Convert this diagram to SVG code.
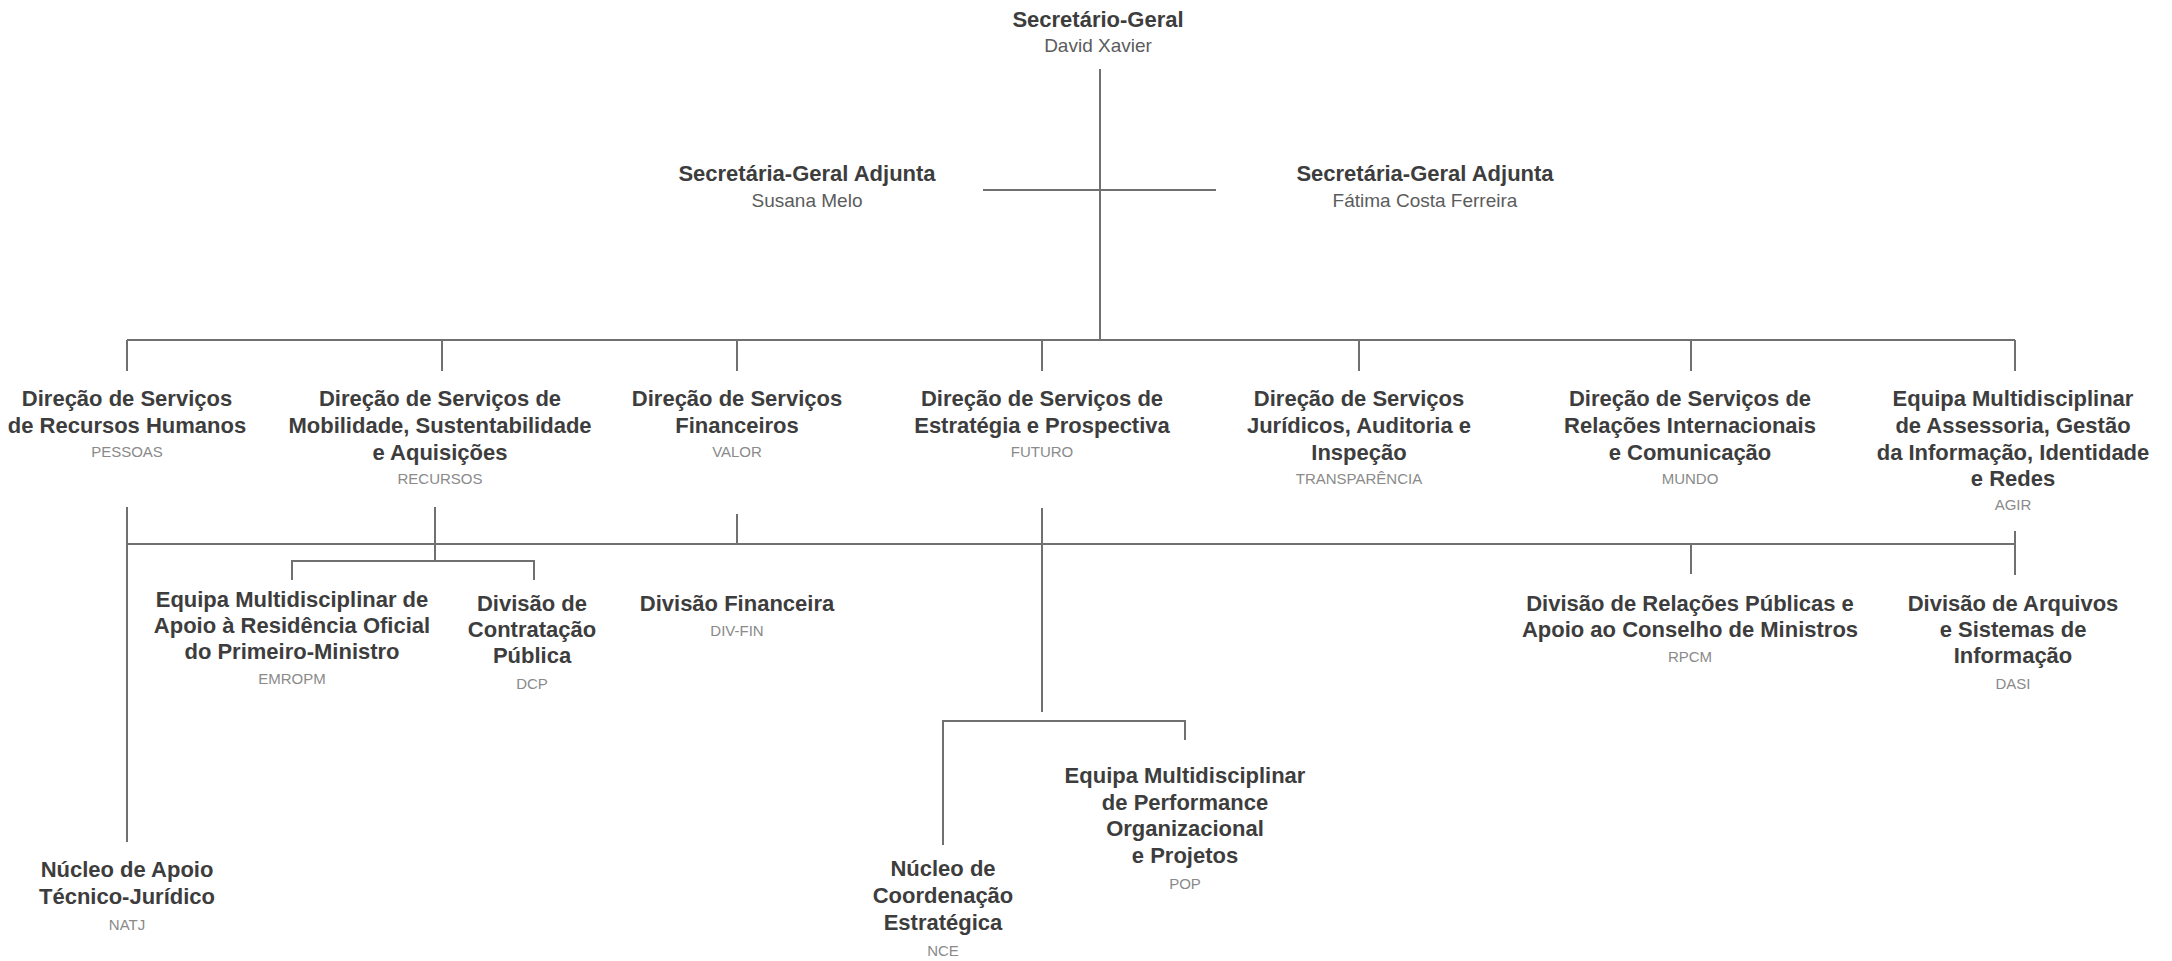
<svg xmlns="http://www.w3.org/2000/svg" width="2172" height="961" viewBox="0 0 2172 961">
<style>
.t{font-family:"Liberation Sans",Arial,sans-serif;font-weight:700;font-size:22px;fill:#3d3d3d;text-anchor:middle}
.n{font-family:"Liberation Sans",Arial,sans-serif;font-size:19px;fill:#5c5c5c;text-anchor:middle}
.c{font-family:"Liberation Sans",Arial,sans-serif;font-size:15px;fill:#8a8a8a;text-anchor:middle}
.ln{fill:none;stroke:#707070;stroke-width:2}
</style>
<rect width="2172" height="961" fill="#ffffff"/>
<g id="connectors" class="ln">
<path d="M1100 69V340"/>
<path d="M983 190H1216"/>
<path d="M127 340H2015"/>
<path d="M127 340V371M442 340V371M737 340V371M1042 340V371M1359 340V371M1691 340V371M2015 340V371"/>
<path d="M127 544H2015"/>
<path d="M127 507V842"/>
<path d="M435 507V561"/>
<path d="M292 580V561H534V580"/>
<path d="M737 514V544"/>
<path d="M1042 508V712"/>
<path d="M943 845V721H1185V740"/>
<path d="M1691 544V574"/>
<path d="M2015 531V575"/>
</g>
<g id="sg"><text class="t" x="1098" y="27">Secretário-Geral</text><text class="n" x="1098" y="52">David Xavier</text></g>
<g id="sga1"><text class="t" x="807" y="181">Secretária-Geral Adjunta</text><text class="n" x="807" y="207">Susana Melo</text></g>
<g id="sga2"><text class="t" x="1425" y="181">Secretária-Geral Adjunta</text><text class="n" x="1425" y="207">Fátima Costa Ferreira</text></g>
<g id="pessoas"><text class="t" x="127" y="406">Direção de Serviços</text><text class="t" x="127" y="433">de Recursos Humanos</text><text class="c" x="127" y="457">PESSOAS</text></g>
<g id="recursos"><text class="t" x="440" y="406">Direção de Serviços de</text><text class="t" x="440" y="433">Mobilidade, Sustentabilidade</text><text class="t" x="440" y="460">e Aquisições</text><text class="c" x="440" y="484">RECURSOS</text></g>
<g id="valor"><text class="t" x="737" y="406">Direção de Serviços</text><text class="t" x="737" y="433">Financeiros</text><text class="c" x="737" y="457">VALOR</text></g>
<g id="futuro"><text class="t" x="1042" y="406">Direção de Serviços de</text><text class="t" x="1042" y="433">Estratégia e Prospectiva</text><text class="c" x="1042" y="457">FUTURO</text></g>
<g id="transparencia"><text class="t" x="1359" y="406">Direção de Serviços</text><text class="t" x="1359" y="433">Jurídicos, Auditoria e</text><text class="t" x="1359" y="460">Inspeção</text><text class="c" x="1359" y="484">TRANSPARÊNCIA</text></g>
<g id="mundo"><text class="t" x="1690" y="406">Direção de Serviços de</text><text class="t" x="1690" y="433">Relações Internacionais</text><text class="t" x="1690" y="460">e Comunicação</text><text class="c" x="1690" y="484">MUNDO</text></g>
<g id="agir"><text class="t" x="2013" y="406">Equipa Multidisciplinar</text><text class="t" x="2013" y="433">de Assessoria, Gestão</text><text class="t" x="2013" y="460">da Informação, Identidade</text><text class="t" x="2013" y="486">e Redes</text><text class="c" x="2013" y="510">AGIR</text></g>
<g id="emropm"><text class="t" x="292" y="607">Equipa Multidisciplinar de</text><text class="t" x="292" y="633">Apoio à Residência Oficial</text><text class="t" x="292" y="659">do Primeiro-Ministro</text><text class="c" x="292" y="684">EMROPM</text></g>
<g id="dcp"><text class="t" x="532" y="611">Divisão de</text><text class="t" x="532" y="637">Contratação</text><text class="t" x="532" y="663">Pública</text><text class="c" x="532" y="689">DCP</text></g>
<g id="divfin"><text class="t" x="737" y="611">Divisão Financeira</text><text class="c" x="737" y="636">DIV-FIN</text></g>
<g id="rpcm"><text class="t" x="1690" y="611">Divisão de Relações Públicas e</text><text class="t" x="1690" y="637">Apoio ao Conselho de Ministros</text><text class="c" x="1690" y="662">RPCM</text></g>
<g id="dasi"><text class="t" x="2013" y="611">Divisão de Arquivos</text><text class="t" x="2013" y="637">e Sistemas de</text><text class="t" x="2013" y="663">Informação</text><text class="c" x="2013" y="689">DASI</text></g>
<g id="natj"><text class="t" x="127" y="877">Núcleo de Apoio</text><text class="t" x="127" y="904">Técnico-Jurídico</text><text class="c" x="127" y="930">NATJ</text></g>
<g id="nce"><text class="t" x="943" y="876">Núcleo de</text><text class="t" x="943" y="903">Coordenação</text><text class="t" x="943" y="930">Estratégica</text><text class="c" x="943" y="956">NCE</text></g>
<g id="pop"><text class="t" x="1185" y="783">Equipa Multidisciplinar</text><text class="t" x="1185" y="810">de Performance</text><text class="t" x="1185" y="836">Organizacional</text><text class="t" x="1185" y="863">e Projetos</text><text class="c" x="1185" y="889">POP</text></g>
</svg>
